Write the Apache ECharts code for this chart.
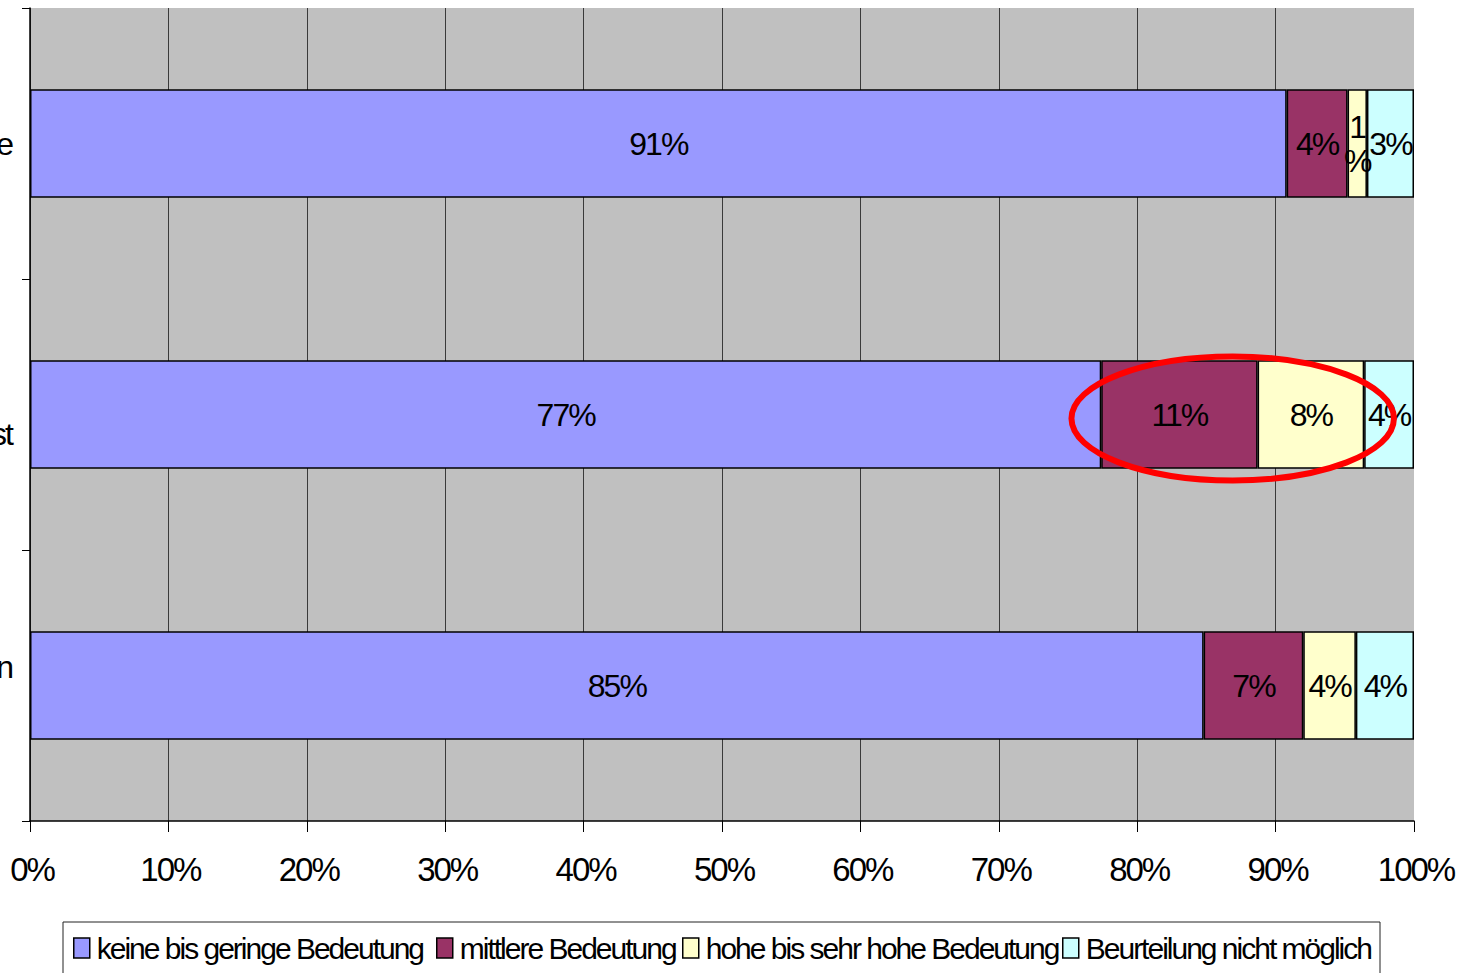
<!DOCTYPE html>
<html>
<head>
<meta charset="utf-8">
<script src="https://cdn.jsdelivr.net/npm/echarts@6/dist/echarts.min.js"></script>
<style>
  html, body { margin: 0; padding: 0; background: #ffffff; }
  #chart { width: 1472px; height: 973px; }
  /* tight, condensed lettering for all chart texts */
  #chart text { letter-spacing: -2px; }
</style>
</head>
<body>
<div id="chart"></div>
<script>
// Category names (only their visible ends), top to bottom
const categories = ['e', '\nst', 'n\n'];

// Shares per category, in percent
const keineBisGering = [90.8, 77.4, 84.8];
const mittlere = [4.4, 11.3, 7.2];
const hoheBisSehrHoch = [1.4, 7.7, 3.8];
const nichtMoeglich = [3.4, 3.6, 4.2];

const seriesNames = [
  'keine bis geringe Bedeutung',
  'mittlere Bedeutung',
  'hohe bis sehr hohe Bedeutung',
  'Beurteilung nicht möglich'
];
const seriesColors = ['#9999FF', '#993366', '#FFFFCC', '#CCFFFF'];
const seriesValues = [keineBisGering, mittlere, hoheBisSehrHoch, nichtMoeglich];

// x-axis ticks
const axisMin = 0, axisMax = 100, axisStep = 10;

const FONT = '"Liberation Sans", Arial, sans-serif';

const chart = echarts.init(document.getElementById('chart'), null, { renderer: 'svg' });

function pctLabel(p) {
  const t = Math.round(p.value) + '%';
  // very narrow segments wrap their label character by character
  return p.value < 2 ? t.split('').join('\n') : t;
}

const legendLefts = [68, 431, 677, 1057];

chart.setOption({
  animation: false,
  backgroundColor: '#ffffff',
  grid: {
    left: 30, right: 58, top: 8, bottom: 152,
    outerBoundsMode: 'none',
    containLabel: false,
    show: true, backgroundColor: '#C0C0C0', borderWidth: 0
  },
  legend: seriesNames.map((name, i) => ({
    data: [{ name: name, itemStyle: { color: seriesColors[i], borderColor: '#000', borderWidth: 1.5 } }],
    left: legendLefts[i],
    top: 928,
    padding: 5,
    itemWidth: 16,
    itemHeight: 20,
    icon: 'rect',
    selectedMode: false,
    textStyle: { fontFamily: FONT, fontSize: 30, color: '#000', padding: [0, 0, 0, 2] }
  })),
  xAxis: {
    type: 'value',
    min: axisMin, max: axisMax, interval: axisStep,
    axisLine: { show: true, lineStyle: { color: '#000', width: 1.5 } },
    axisTick: { show: true, length: 11, lineStyle: { color: '#000', width: 1 } },
    axisLabel: {
      formatter: '{value}%', fontFamily: FONT, fontSize: 33, color: '#000', margin: 32,
      padding: [0, 0, 0, 4]
    },
    splitLine: { show: true, showMaxLine: false, lineStyle: { color: '#3a3a3a', width: 1 } }
  },
  yAxis: {
    type: 'category',
    data: categories,
    inverse: true,
    axisLine: { show: true, lineStyle: { color: '#000', width: 1.5 } },
    axisTick: { show: true, length: 8, lineStyle: { color: '#000', width: 1 } },
    axisLabel: {
      fontFamily: FONT, fontSize: 32, color: '#000', margin: 18, lineHeight: 38
    },
    splitLine: { show: false }
  },
  series: seriesNames.map((name, i) => ({
    name: name,
    type: 'bar',
    stack: 'total',
    barWidth: '40%',
    data: seriesValues[i],
    itemStyle: { color: seriesColors[i], borderColor: '#000', borderWidth: 1.5 },
    label: {
      show: true, position: 'inside', formatter: pctLabel,
      fontFamily: FONT, fontSize: 32, color: '#000', lineHeight: 34
    },
    emphasis: { disabled: true }
  }))
});

// highlight ring around the middle/high segments of the second bar
const ringCenter = chart.convertToPixel({ gridIndex: 0 }, [86.9, categories[1]]);
const ringLeft = chart.convertToPixel({ gridIndex: 0 }, [75.25, categories[1]]);
chart.setOption({
  graphic: [
    {
      type: 'ellipse',
      shape: { cx: ringCenter[0], cy: ringCenter[1] + 4, rx: ringCenter[0] - ringLeft[0], ry: 62 },
      style: { fill: 'none', stroke: '#FF0000', lineWidth: 6 },
      z: 100
    },
    {
      type: 'rect',
      shape: { x: 63, y: 922, width: 1317, height: 70 },
      style: { fill: 'none', stroke: '#222', lineWidth: 1 },
      z: 0
    }
  ]
});
</script>
</body>
</html>
